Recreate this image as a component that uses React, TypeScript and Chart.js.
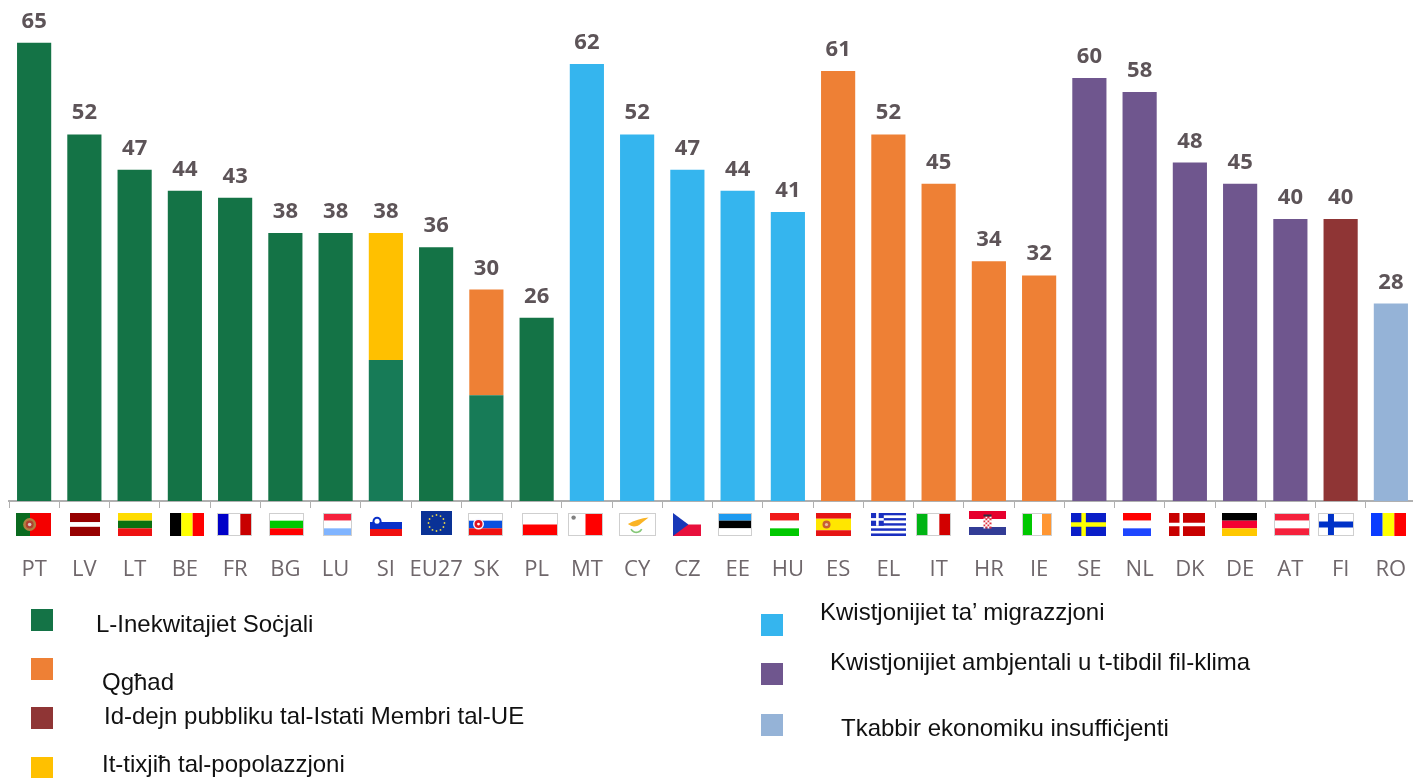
import React, { useEffect, useRef } from "react";
import { Chart, registerables } from "chart.js";

Chart.register(...registerables);

const categories = ["PT","LV","LT","BE","FR","BG","LU","SI","EU27","SK","PL","MT","CY","CZ","EE","HU","ES","EL","IT","HR","IE","SE","NL","DK","DE","AT","FI","RO"];
const totals = [65,52,47,44,43,38,38,38,36,30,26,62,52,47,44,41,61,52,45,34,32,60,58,48,45,40,40,28];
const socialInequality = [65,52,47,44,43,38,38,20,36,15,26,0,0,0,0,0,0,0,0,0,0,0,0,0,0,0,0,0];
const unemployment = [0,0,0,0,0,0,0,0,0,15,0,0,0,0,0,0,61,52,45,34,32,0,0,0,0,0,0,0];
const publicDebt = [0,0,0,0,0,0,0,0,0,0,0,0,0,0,0,0,0,0,0,0,0,0,0,0,0,0,40,0];
const ageing = [0,0,0,0,0,0,0,18,0,0,0,0,0,0,0,0,0,0,0,0,0,0,0,0,0,0,0,0];
const migration = [0,0,0,0,0,0,0,0,0,0,0,62,52,47,44,41,0,0,0,0,0,0,0,0,0,0,0,0];
const climate = [0,0,0,0,0,0,0,0,0,0,0,0,0,0,0,0,0,0,0,0,0,60,58,48,45,40,0,0];
const growth = [0,0,0,0,0,0,0,0,0,0,0,0,0,0,0,0,0,0,0,0,0,0,0,0,0,0,0,28];

const legendLabels = [
  "L-Inekwitajiet Soċjali",
  "Qgħad",
  "Id-dejn pubbliku tal-Istati Membri tal-UE",
  "It-tixjiħ tal-popolazzjoni",
  "Kwistjonijiet ta’ migrazzjoni",
  "Kwistjonijiet ambjentali u t-tibdil fil-klima",
  "Tkabbir ekonomiku insuffiċjenti",
];

const GREEN = "#147346", LIGHT_GREEN = "#177b57", ORANGE = "#ee8035", MAROON = "#8f3535",
  YELLOW = "#ffc000", BLUE = "#35b5ee", PURPLE = "#6f568e", PALE = "#95b3d7";

const legendLayout = [
  { color: GREEN, sx: 31, sy: 609, tx: 96, ty: 624 },
  { color: ORANGE, sx: 31, sy: 658, tx: 102, ty: 682 },
  { color: MAROON, sx: 31, sy: 707, tx: 104, ty: 716 },
  { color: YELLOW, sx: 31, sy: 757, tx: 102, ty: 764 },
  { color: BLUE, sx: 761, sy: 614, tx: 820, ty: 612 },
  { color: PURPLE, sx: 761, sy: 663, tx: 830, ty: 662 },
  { color: PALE, sx: 761, sy: 714, tx: 841, ty: 728 },
];

type Draw = (c: CanvasRenderingContext2D, w: number, h: number) => void;
const hs = (cols: string[], weights?: number[]): Draw => (c, w, h) => {
  const ws = weights || cols.map(() => 1);
  const sum = ws.reduce((a, b) => a + b, 0);
  let y = 0;
  cols.forEach((col, i) => {
    const bh = (h * ws[i]) / sum;
    c.fillStyle = col;
    c.fillRect(0, y, w, bh);
    y += bh;
  });
};
const vs = (cols: string[], weights?: number[]): Draw => (c, w, h) => {
  const ws = weights || cols.map(() => 1);
  const sum = ws.reduce((a, b) => a + b, 0);
  let x = 0;
  cols.forEach((col, i) => {
    const bw = (w * ws[i]) / sum;
    c.fillStyle = col;
    c.fillRect(x, 0, bw, h);
    x += bw;
  });
};
const cross = (bg: string, fg: string, size: number, at = 0.36): Draw => (c, w, h) => {
  c.fillStyle = bg;
  c.fillRect(0, 0, w, h);
  c.fillStyle = fg;
  c.fillRect(w * at - size / 2, 0, size, h);
  c.fillRect(0, h / 2 - size / 2, w, size);
};
const both = (...ds: Draw[]): Draw => (c, w, h) => ds.forEach((d) => d(c, w, h));
const dot = (fx: number, fy: number, r: number, col: string): Draw => (c, w, h) => {
  c.fillStyle = col;
  c.beginPath();
  c.arc(w * fx, h * fy, r, 0, Math.PI * 2);
  c.fill();
};

type FlagSpec = { dx: number; w: number; y?: number; h?: number; border?: boolean; draw: Draw };
const flags: Record<string, FlagSpec> = {
  PT: { dx: -0.5, w: 35, draw: both(vs(["#0a6a1f", "#f40000"], [2, 3]), dot(0.39, 0.5, 6.5, "#b08040"), dot(0.39, 0.5, 4, "#b04030"), dot(0.39, 0.5, 1.8, "#d8c8c0")) },
  LV: { dx: 0.7, w: 30, draw: hs(["#960000", "#ffffff", "#960000"], [2, 1, 2]) },
  LT: { dx: 0.5, w: 34, draw: hs(["#ffdc00", "#0a7010", "#ee1111"]) },
  BE: { dx: 2.3, w: 34, draw: vs(["#000000", "#ffff00", "#ff0000"]) },
  FR: { dx: -0.4, w: 35, border: true, draw: vs(["#0000c8", "#ffffff", "#c80000"]) },
  BG: { dx: 1.4, w: 35, border: true, draw: hs(["#ffffff", "#00c800", "#ff0000"]) },
  LU: { dx: 2.2, w: 29, border: true, draw: hs(["#f5213c", "#ffffff", "#80b4ff"]) },
  SI: { dx: 0.5, w: 32, y: 515, h: 21, draw: both(hs(["#ffffff", "#0a30c8", "#f01010"]), dot(0.22, 0.3, 4.5, "#0a30c8"), dot(0.22, 0.3, 2.5, "#ffffff")) },
  EU27: {
    dx: 0, w: 31, y: 511, h: 24,
    draw: (c, w, h) => {
      c.fillStyle = "#0a3296";
      c.fillRect(0, 0, w, h);
      c.fillStyle = "#e6d24a";
      for (let i = 0; i < 12; i++) {
        const a = (i * Math.PI) / 6;
        c.beginPath();
        c.arc(w / 2 + Math.cos(a) * 8, h / 2 + Math.sin(a) * 8, 0.9, 0, Math.PI * 2);
        c.fill();
      }
    },
  },
  SK: { dx: -0.4, w: 35, border: true, draw: both(hs(["#ffffff", "#0a50e0", "#f01010"]), dot(0.3, 0.48, 5.5, "#f5f5ff"), dot(0.3, 0.48, 4, "#e01020"), dot(0.3, 0.48, 1.4, "#ffffff")) },
  PL: { dx: 2.9, w: 36, border: true, draw: hs(["#ffffff", "#ff0000"]) },
  MT: { dx: -1.8, w: 35, border: true, draw: both(vs(["#ffffff", "#ff0000"]), dot(0.16, 0.2, 2.2, "#808080")) },
  CY: {
    dx: 0, w: 37, border: true,
    draw: (c, w, h) => {
      c.fillStyle = "#ffffff";
      c.fillRect(0, 0, w, h);
      c.fillStyle = "#fab425";
      c.beginPath();
      c.moveTo(w * 0.24, h * 0.48);
      c.quadraticCurveTo(w * 0.5, h * 0.25, w * 0.8, h * 0.2);
      c.lineTo(w * 0.62, h * 0.42);
      c.quadraticCurveTo(w * 0.42, h * 0.72, w * 0.24, h * 0.48);
      c.fill();
      c.strokeStyle = "#86c878";
      c.lineWidth = 1.6;
      c.beginPath();
      c.arc(w * 0.47, h * 0.58, 6, Math.PI * 0.15, Math.PI * 0.85);
      c.stroke();
    },
  },
  CZ: {
    dx: -0.7, w: 28,
    draw: (c, w, h) => {
      hs(["#ffffff", "#e8103c"])(c, w, h);
      c.fillStyle = "#1838b8";
      c.beginPath();
      c.moveTo(0, 0);
      c.lineTo(w * 0.55, h / 2);
      c.lineTo(0, h);
      c.fill();
    },
  },
  EE: { dx: -2.9, w: 34, border: true, draw: hs(["#1e9bf0", "#000000", "#ffffff"]) },
  HU: { dx: -3.6, w: 29, draw: hs(["#f01a1a", "#ffffff", "#00c800"]) },
  ES: { dx: -4.8, w: 35, draw: both(hs(["#e61414", "#ffe600", "#e61414"], [1, 2, 1]), dot(0.3, 0.5, 4, "#c86030"), dot(0.3, 0.5, 1.6, "#e6c0a0")) },
  EL: {
    dx: 0, w: 35,
    draw: (c, w, h) => {
      hs(["#1a2fc0", "#ffffff", "#1a2fc0", "#ffffff", "#1a2fc0", "#ffffff", "#1a2fc0", "#ffffff", "#1a2fc0"])(c, w, h);
      const ch = (h * 5) / 9;
      c.fillStyle = "#1a2fc0";
      c.fillRect(0, 0, ch, ch);
      c.fillStyle = "#ffffff";
      c.fillRect(ch / 2 - 1.3, 0, 2.6, ch);
      c.fillRect(0, ch / 2 - 1.3, ch, 2.6);
    },
  },
  IT: { dx: -5, w: 35, border: true, draw: vs(["#00b414", "#ffffff", "#d20000"]) },
  HR: {
    dx: -1.4, w: 37, y: 511, h: 24,
    draw: (c, w, h) => {
      hs(["#e6002d", "#ffffff", "#323c96"])(c, w, h);
      for (let i = 0; i < 4; i++) {
        for (let j = 0; j < 6; j++) {
          c.fillStyle = (i + j) % 2 ? "#ffffff" : "#e03040";
          c.fillRect(w / 2 - 4 + i * 2, 5.5 + j * 2, 2, 2);
        }
      }
      c.fillStyle = "#303040";
      c.fillRect(w / 2 - 4, 3.5, 8, 2);
    },
  },
  IE: { dx: -2, w: 30, border: true, draw: vs(["#00c800", "#ffffff", "#ff9632"]) },
  SE: { dx: -0.8, w: 35, draw: cross("#0a1ec8", "#ffff00", 4.5) },
  NL: { dx: -2.5, w: 28, draw: hs(["#ff0000", "#ffffff", "#1e46ff"]) },
  DK: { dx: -2.7, w: 36, draw: cross("#c80000", "#ffffff", 3.5, 0.34) },
  DE: { dx: -0.4, w: 35, draw: hs(["#000000", "#f50032", "#ffc800"]) },
  AT: { dx: 1.9, w: 36, border: true, draw: hs(["#f5213c", "#ffffff", "#f5213c"]) },
  FI: { dx: -4.3, w: 36, border: true, draw: cross("#ffffff", "#0032c8", 6, 0.36) },
  RO: { dx: -2, w: 35, draw: vs(["#0a3cff", "#ffff00", "#ff0000"]) },
};

const decorPlugin = {
  id: "decor",
  afterDraw(chart: any) {
    const { ctx, scales } = chart;
    const x = scales.x, y = scales.y;
    ctx.save();
    ctx.font = "bold 22px 'Open Sans'";
    ctx.fillStyle = "#5d5458";
    ctx.textAlign = "center";
    ctx.textBaseline = "alphabetic";
    totals.forEach((v, i) => {
      ctx.fillText(String(v), x.getPixelForValue(i), y.getPixelForValue(v) - 15);
    });
    categories.forEach((code, i) => {
      const f = flags[code];
      const fy = f.y ?? 513;
      const fh = f.h ?? 23;
      const fx = Math.round(x.getPixelForValue(i) + f.dx - f.w / 2);
      ctx.save();
      ctx.translate(fx, fy);
      ctx.beginPath();
      ctx.rect(0, 0, f.w, fh);
      ctx.clip();
      f.draw(ctx, f.w, fh);
      ctx.restore();
      if (f.border) {
        ctx.strokeStyle = "#cfcfcf";
        ctx.lineWidth = 1;
        ctx.strokeRect(fx + 0.5, fy + 0.5, f.w - 1, fh - 1);
      }
    });
    ctx.restore();
  },
};

export default function App() {
  const ref = useRef<HTMLCanvasElement>(null);
  useEffect(() => {
    document.body.style.margin = "0";
    const chart = new Chart(ref.current as HTMLCanvasElement, {
      type: "bar",
      data: {
        labels: categories,
        datasets: [
          {
            label: legendLabels[0],
            data: socialInequality,
            backgroundColor: categories.map((c) => (c === "SI" || c === "SK" ? LIGHT_GREEN : GREEN)),
          },
          { label: legendLabels[1], data: unemployment, backgroundColor: ORANGE },
          { label: legendLabels[2], data: publicDebt, backgroundColor: MAROON },
          { label: legendLabels[3], data: ageing, backgroundColor: YELLOW },
          { label: legendLabels[4], data: migration, backgroundColor: BLUE },
          { label: legendLabels[5], data: climate, backgroundColor: PURPLE },
          { label: legendLabels[6], data: growth, backgroundColor: PALE },
        ],
      },
      options: {
        animation: false,
        responsive: false,
        events: [],
        layout: { padding: { left: 9, right: 4, top: 7.5, bottom: 0 } },
        datasets: { bar: { barPercentage: 0.68, categoryPercentage: 1 } },
        plugins: { legend: { display: false }, tooltip: { enabled: false }, title: { display: false } },
        scales: {
          x: {
            stacked: true,
            afterFit: (s: any) => {
              s.height = 277;
              s.paddingLeft = 0;
              s.paddingRight = 0;
            },
            grid: { display: true, drawOnChartArea: false, drawTicks: true, tickLength: 7, color: "#b0b0b0" },
            border: { color: "#b0b0b0", width: 2 },
            ticks: {
              autoSkip: false,
              maxRotation: 0,
              minRotation: 0,
              padding: 49,
              color: "#6f676b",
              font: { family: "'Open Sans'", size: 22 },
            },
          },
          y: { stacked: true, display: false, min: 0, max: 70 },
        },
      },
      plugins: [decorPlugin],
    } as any);
    return () => chart.destroy();
  }, []);

  return (
    <div style={{ position: "relative", width: 1413, height: 778, overflow: "hidden", background: "#fff" }}>
      <canvas ref={ref} width={1420} height={778} style={{ position: "absolute", left: 0, top: 0 }} />
      {legendLabels.map((text, i) => {
        const l = legendLayout[i];
        return (
          <React.Fragment key={text}>
            <div style={{ position: "absolute", left: l.sx, top: l.sy, width: 22, height: 22, background: l.color }} />
            <div
              style={{
                position: "absolute",
                left: l.tx,
                top: l.ty - 15,
                whiteSpace: "nowrap",
                font: "24px/30px 'Liberation Sans'",
                color: "#111",
              }}
            >
              {text}
            </div>
          </React.Fragment>
        );
      })}
    </div>
  );
}
